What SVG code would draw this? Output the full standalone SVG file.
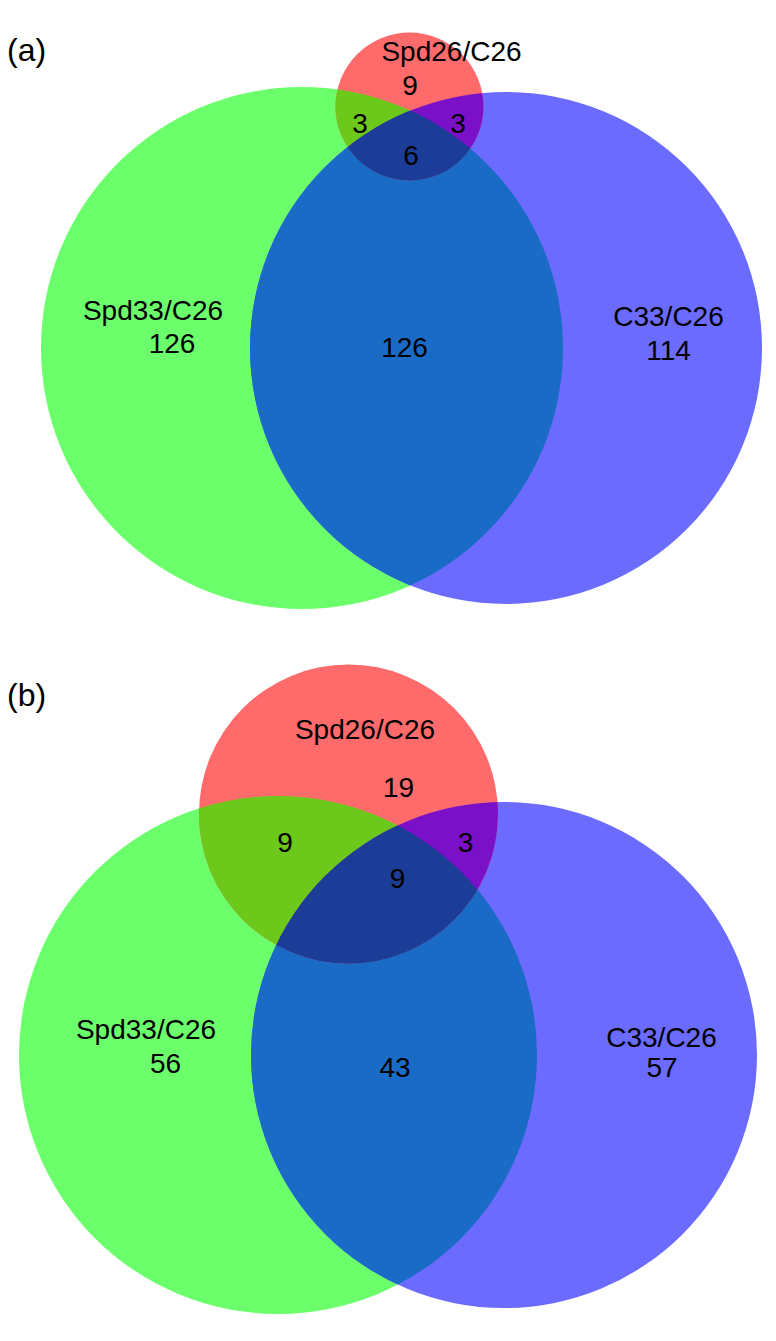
<svg xmlns="http://www.w3.org/2000/svg" width="776" height="1341" viewBox="0 0 776 1341">
<style>
text{font-family:"Liberation Sans",Arial,sans-serif;font-size:28px;fill:#000;text-anchor:middle}
.lbl{font-size:32px;text-anchor:start}
.g{fill:#6bff6b}.b{fill:#6b6bff}.r{fill:#ff6b6b}
.gb{fill:#1a6bc6}.rg{fill:#6cc81a}.rb{fill:#7a10c8}.rgb{fill:#1b3d97}
</style>
<defs>
<clipPath id="aG"><circle cx="302" cy="348" r="261"/></clipPath>
<clipPath id="aB"><circle cx="506" cy="348" r="256"/></clipPath>
<clipPath id="aR"><circle cx="409.5" cy="106.5" r="74"/></clipPath>
<clipPath id="bG"><circle cx="278" cy="1055" r="259"/></clipPath>
<clipPath id="bB"><circle cx="504" cy="1055" r="253"/></clipPath>
<clipPath id="bR"><circle cx="348.5" cy="814" r="149.5"/></clipPath>
</defs>
<rect width="776" height="1341" fill="#fff"/>
<!-- panel (a) -->
<g id="a-spd33"><circle class="g" cx="302" cy="348" r="261"/></g>
<g id="a-c33"><circle class="b" cx="506" cy="348" r="256"/></g>
<g id="a-spd26"><circle class="r" cx="409.5" cy="106.5" r="74"/></g>
<g id="a-overlaps">
<g clip-path="url(#aG)"><circle class="gb" cx="506" cy="348" r="256"/><circle class="rg" cx="409.5" cy="106.5" r="74"/></g>
<g clip-path="url(#aB)"><circle class="rb" cx="409.5" cy="106.5" r="74"/></g>
<g clip-path="url(#aG)"><g clip-path="url(#aB)"><circle class="rgb" cx="409.5" cy="106.5" r="74"/></g></g>
</g>
<g id="connectors"/>
<g id="a-labels">
<text class="lbl" x="7" y="61">(a)</text>
<text x="451.5" y="61">Spd26/C26</text>
<text x="410" y="95">9</text>
<text x="360" y="133">3</text>
<text x="458" y="133">3</text>
<text x="411" y="165">6</text>
<text x="153" y="320">Spd33/C26</text>
<text x="172" y="353">126</text>
<text x="404.5" y="357">126</text>
<text x="668.5" y="326">C33/C26</text>
<text x="668.5" y="360">114</text>
</g>
<!-- panel (b) -->
<g id="b-spd33"><circle class="g" cx="278" cy="1055" r="259"/></g>
<g id="b-c33"><circle class="b" cx="504" cy="1055" r="253"/></g>
<g id="b-spd26"><circle class="r" cx="348.5" cy="814" r="149.5"/></g>
<g id="b-overlaps">
<g clip-path="url(#bG)"><circle class="gb" cx="504" cy="1055" r="253"/><circle class="rg" cx="348.5" cy="814" r="149.5"/></g>
<g clip-path="url(#bB)"><circle class="rb" cx="348.5" cy="814" r="149.5"/></g>
<g clip-path="url(#bG)"><g clip-path="url(#bB)"><circle class="rgb" cx="348.5" cy="814" r="149.5"/></g></g>
</g>
<g id="b-labels">
<text class="lbl" x="7" y="706">(b)</text>
<text x="365" y="739">Spd26/C26</text>
<text x="398.5" y="797">19</text>
<text x="285" y="852">9</text>
<text x="465.5" y="852">3</text>
<text x="397.5" y="888">9</text>
<text x="146" y="1039">Spd33/C26</text>
<text x="165.5" y="1073">56</text>
<text x="395" y="1077">43</text>
<text x="661.5" y="1047">C33/C26</text>
<text x="662" y="1077">57</text>
</g>
</svg>
